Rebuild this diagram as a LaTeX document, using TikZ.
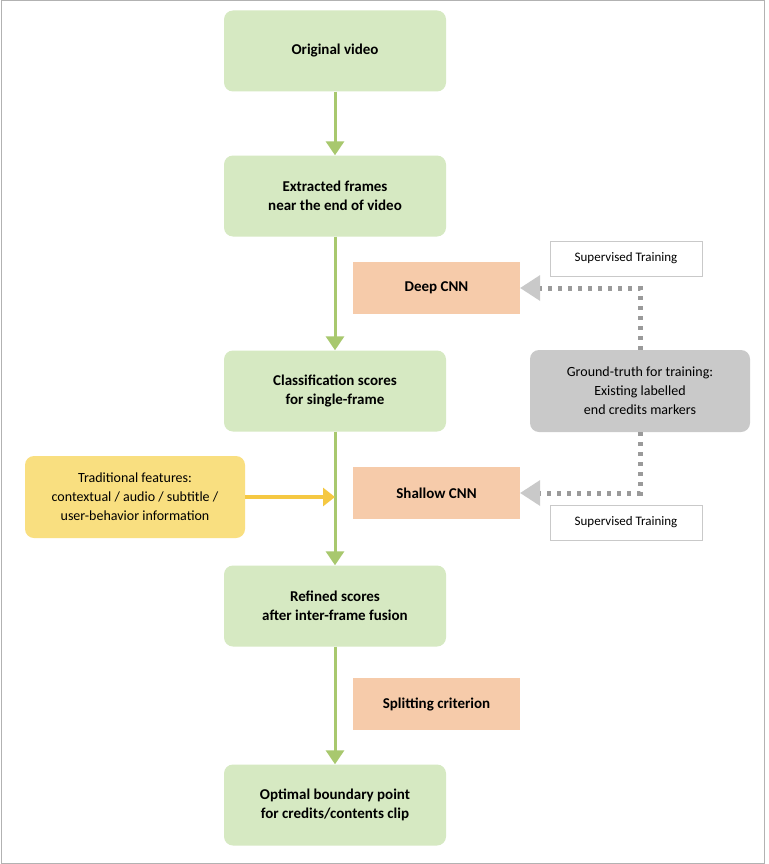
\documentclass[tikz,border=0pt]{standalone}
\usepackage{fontspec}
\setmainfont{Carlito}
\usetikzlibrary{arrows.meta}
\definecolor{gfill}{HTML}{D6E9C2}
\definecolor{garrow}{HTML}{A8C86E}
\definecolor{ofill}{HTML}{F6CBAA}
\definecolor{grfill}{HTML}{C9C9C9}
\definecolor{yfill}{HTML}{F9DF80}
\definecolor{yarrow}{HTML}{F5C842}
\definecolor{dotc}{HTML}{9A9A9A}
\begin{document}
\begin{tikzpicture}[x=1pt,y=-1pt,
 green/.style={draw=none,fill=gfill,rounded corners=9pt,minimum width=222pt,minimum height=81pt,align=center,font=\bfseries\fontsize{15}{19}\selectfont},
 orange/.style={draw=none,fill=ofill,minimum width=167pt,minimum height=52pt,font=\bfseries\fontsize{15}{19}\selectfont},
 sup/.style={draw=grfill,fill=white,minimum width=152pt,minimum height=35pt,font=\fontsize{13}{16}\selectfont},
 garr/.style={draw=garrow,line width=3pt,-{Triangle[length=14pt,width=18pt]}},
 dots/.style={draw=dotc,line width=5pt,dash pattern=on 4pt off 6pt,-{Triangle[length=20pt,width=26pt,fill=grfill,line width=0pt]}}]
\useasboundingbox (0,0) rectangle (768,864);
\fill[white] (0,0) rectangle (768,864);
\draw[color=gray!60,line width=1pt] (1,1) rectangle (764,863);
\node[green] (b1) at (335,51) {Original video};
\node[green] (b2) at (335,196) {Extracted frames\\near the end of video};
\node[green] (b3) at (335,391) {Classification scores\\for single-frame};
\node[green] (b4) at (335,606) {Refined scores\\after inter-frame fusion};
\node[green] (b5) at (335,805) {Optimal boundary point\\for credits/contents clip};
\node[orange] (deep) at (436.5,288) {Deep CNN};
\node[orange] (shallow) at (436.5,493) {Shallow CNN};
\node[orange] (split) at (436.5,704) {Splitting criterion};
\node[sup] (s1) at (626,258.5) {Supervised Training};
\node[sup] (s2) at (626,522.5) {Supervised Training};
\node[fill=grfill,rounded corners=9pt,minimum width=220pt,minimum height=82pt,align=center,font=\fontsize{14}{19}\selectfont] (gt) at (640,391) {Ground-truth for training:\\Existing labelled\\end credits markers};
\node[fill=yfill,rounded corners=9pt,minimum width=220pt,minimum height=82pt,align=center,font=\fontsize{14}{19}\selectfont] (tf) at (135,497) {Traditional features:\\contextual / audio / subtitle /\\user-behavior information};
\coordinate (m1) at (335,497);
\draw[garr] (b1) -- (b2);
\draw[garr] (b2) -- (b3);
\draw[garr] (b3) -- (b4);
\draw[garr] (b4) -- (b5);
\draw[draw=yarrow,line width=4pt,-{Triangle[length=12pt,width=18pt]}] (tf.east) -- (m1);
\draw[dots] (gt.north) -- (gt.north |- deep) -- (deep.east);
\draw[dots] (gt.south) -- (gt.south |- shallow) -- (shallow.east);
\end{tikzpicture}
\end{document}
